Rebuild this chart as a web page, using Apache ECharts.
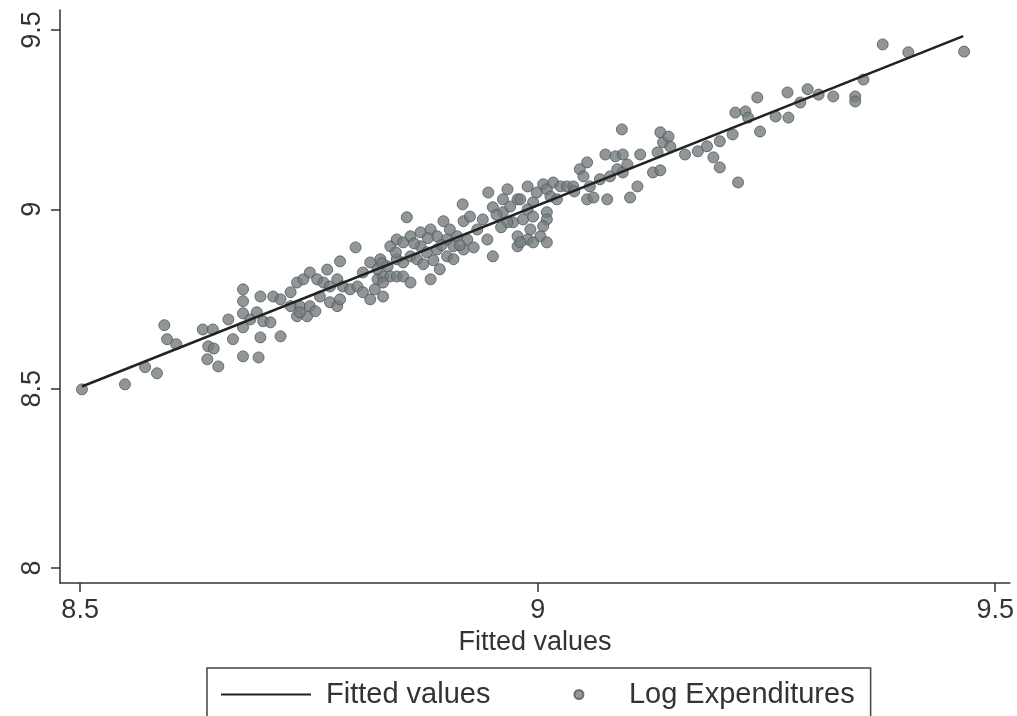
<!DOCTYPE html>
<html>
<head>
<meta charset="utf-8">
<title>Log Expenditures vs Fitted values</title>
<script src="https://cdn.jsdelivr.net/npm/echarts@6/dist/echarts.min.js"></script>
<style>
  html, body { margin: 0; padding: 0; background: #fff; }
  #chart { width: 1017px; height: 716px; }
</style>
</head>
<body>
<div id="chart"></div>
<script>
// fitted line end points
const fittedX = [8.502, 9.465];
const fittedY = [8.506, 9.483];

// scatter: x = fitted value, y = log expenditures
const expX = [
  8.502, 8.549, 8.571, 8.584, 8.592, 8.595, 8.605, 8.634, 8.645, 8.640,
  8.646, 8.639, 8.651, 8.662, 8.667, 8.678, 8.678, 8.678, 8.678, 8.678,
  8.695, 8.686, 8.693, 8.697, 8.700, 8.708, 8.711, 8.719, 8.697, 8.719,
  8.730, 8.737, 8.744, 8.740, 8.748, 8.737, 8.730, 8.751, 8.759, 8.766,
  8.773, 8.781, 8.787, 8.795, 8.803, 8.809, 8.770, 8.784, 8.801, 8.762,
  8.773, 8.781, 8.784, 8.751, 8.809, 8.817, 8.825, 8.831, 8.831, 8.817,
  8.822, 8.740, 8.757, 8.828, 8.825, 8.836, 8.839, 8.831, 8.846, 8.853,
  8.839, 8.846, 8.853, 8.861, 8.872, 8.846, 8.853, 8.861, 8.868, 8.872,
  8.879, 8.890, 8.901, 8.908, 8.857, 8.861, 8.883, 8.893, 8.883, 8.890,
  8.901, 8.904, 8.912, 8.897, 8.919, 8.918, 8.908, 8.919, 8.923, 8.930,
  8.945, 8.951, 8.926, 8.934, 8.940, 8.946, 8.951, 8.962, 8.967, 8.970,
  8.973, 8.978, 8.984, 8.989, 8.992, 8.978, 8.989, 8.978, 8.995, 8.995,
  8.999, 8.875, 8.886, 8.865, 8.895, 8.915, 8.880, 8.845, 8.830, 8.962,
  8.967, 8.981, 8.989, 8.995, 9.010, 9.010, 9.006, 9.003, 9.010, 8.981,
  9.006, 9.010, 9.017, 9.025, 9.032, 9.039, 9.014, 9.021, 9.046, 9.054,
  9.050, 9.057, 9.054, 9.061, 9.076, 9.068, 9.079, 9.087, 9.093, 9.074,
  9.085, 9.093, 9.112, 9.092, 9.101, 9.109, 9.098, 9.126, 9.134, 9.134,
  9.137, 9.143, 9.145, 9.131, 9.040, 8.955, 8.960, 9.161, 9.175, 9.185,
  9.199, 9.192, 9.199, 9.219, 9.213, 9.216, 9.227, 9.230, 9.240, 9.243,
  9.260, 9.274, 9.273, 9.287, 9.295, 9.307, 9.323, 9.347, 9.347, 9.356,
  9.377, 9.405, 9.466
];
const expY = [
  8.498, 8.512, 8.560, 8.543, 8.677, 8.638, 8.624, 8.665, 8.665, 8.618,
  8.612, 8.582, 8.562, 8.693, 8.638, 8.777, 8.744, 8.710, 8.671, 8.590,
  8.587, 8.693, 8.713, 8.757, 8.688, 8.685, 8.757, 8.749, 8.643, 8.646,
  8.769, 8.796, 8.805, 8.730, 8.702, 8.702, 8.730, 8.824, 8.805, 8.796,
  8.785, 8.805, 8.785, 8.777, 8.785, 8.769, 8.832, 8.855, 8.894, 8.757,
  8.741, 8.730, 8.749, 8.730, 8.824, 8.852, 8.805, 8.813, 8.757, 8.749,
  8.777, 8.713, 8.716, 8.861, 8.833, 8.841, 8.813, 8.796, 8.813, 8.813,
  8.897, 8.916, 8.908, 8.925, 8.936, 8.861, 8.852, 8.869, 8.861, 8.897,
  8.880, 8.888, 8.869, 8.861, 8.978, 8.796, 8.805, 8.833, 8.944, 8.925,
  8.916, 8.944, 8.925, 8.967, 8.967, 9.014, 8.897, 8.888, 8.916, 8.894,
  8.916, 8.869, 8.980, 8.944, 8.972, 9.047, 9.006, 8.992, 9.056, 9.008,
  8.964, 9.028, 8.972, 9.064, 8.944, 8.925, 8.916, 8.897, 8.908, 9.020,
  9.047, 8.847, 8.858, 8.905, 8.900, 8.900, 8.920, 8.880, 8.850, 9.028,
  8.964, 9.028, 9.000, 8.980, 8.992, 8.972, 8.953, 8.925, 8.908, 8.908,
  9.070, 9.056, 9.075, 9.064, 9.064, 9.064, 9.036, 9.028, 9.112, 9.131,
  9.092, 9.064, 9.028, 9.033, 9.028, 9.084, 9.092, 9.112, 9.103, 9.153,
  9.148, 9.153, 9.153, 9.223, 9.033, 9.064, 9.125, 9.103, 9.109, 9.215,
  9.187, 9.203, 9.175, 9.159, 9.050, 8.985, 8.950, 9.153, 9.162, 9.176,
  9.190, 9.145, 9.117, 9.075, 9.209, 9.270, 9.273, 9.256, 9.312, 9.217,
  9.259, 9.256, 9.326, 9.298, 9.335, 9.320, 9.315, 9.315, 9.301, 9.362,
  9.460, 9.438, 9.440
];

const xTicks = [8.5, 9, 9.5];
const yTicks = [8, 8.5, 9, 9.5];

const FONT = '"Liberation Sans", Arial, sans-serif';
const AXIS_COLOR = '#333';

const chart = echarts.init(document.getElementById('chart'));

const fittedData = fittedX.map((x, i) => [x, fittedY[i]]);
const expData = expX.map((x, i) => [x, expY[i]]);

chart.setOption({
  animation: false,
  backgroundColor: '#fff',
  textStyle: { fontFamily: FONT },
  grid: { left: 60, right: 7, top: 10, bottom: 133 },
  xAxis: {
    type: 'value',
    min: 8.478,
    max: 9.516,
    name: 'Fitted values',
    nameLocation: 'middle',
    nameGap: 44,
    nameTextStyle: { fontSize: 27, color: AXIS_COLOR, fontFamily: FONT },
    axisLine: { lineStyle: { color: AXIS_COLOR, width: 1.5 } },
    axisTick: { length: 9, customValues: xTicks, lineStyle: { color: AXIS_COLOR, width: 1.5 } },
    axisLabel: { customValues: xTicks, margin: 14, fontSize: 27, color: AXIS_COLOR, fontFamily: FONT },
    splitLine: { show: false }
  },
  yAxis: {
    type: 'value',
    min: 7.958,
    max: 9.556,
    axisLine: { lineStyle: { color: AXIS_COLOR, width: 1.5 } },
    axisTick: { length: 9, customValues: yTicks, lineStyle: { color: AXIS_COLOR, width: 1.5 } },
    axisLabel: { customValues: yTicks, rotate: 90, margin: 14, fontSize: 27, color: AXIS_COLOR, fontFamily: FONT },
    splitLine: { show: false }
  },
  legend: {
    left: 207,
    top: 668,
    orient: 'horizontal',
    padding: [12, 16, 20, 13],
    itemWidth: 90,
    itemHeight: 9,
    itemGap: 83,
    borderColor: '#444',
    borderWidth: 1.5,
    textStyle: { fontSize: 29, color: AXIS_COLOR, fontFamily: FONT },
    data: [
      { name: 'Fitted values', itemStyle: { opacity: 0 }, textStyle: { padding: [0, 0, 0, 10] } },
      { name: 'Log Expenditures' }
    ]
  },
  series: [
    {
      name: 'Log Expenditures',
      type: 'scatter',
      symbol: 'circle',
      symbolSize: 11,
      itemStyle: { color: '#767d7f', borderColor: '#50585a', borderWidth: 1 },
      data: expData,
      z: 2
    },
    {
      name: 'Fitted values',
      type: 'line',
      symbol: 'none',
      lineStyle: { color: '#222', width: 2.5 },
      itemStyle: { color: '#222' },
      data: fittedData,
      z: 3
    }
  ]
});
</script>
</body>
</html>
